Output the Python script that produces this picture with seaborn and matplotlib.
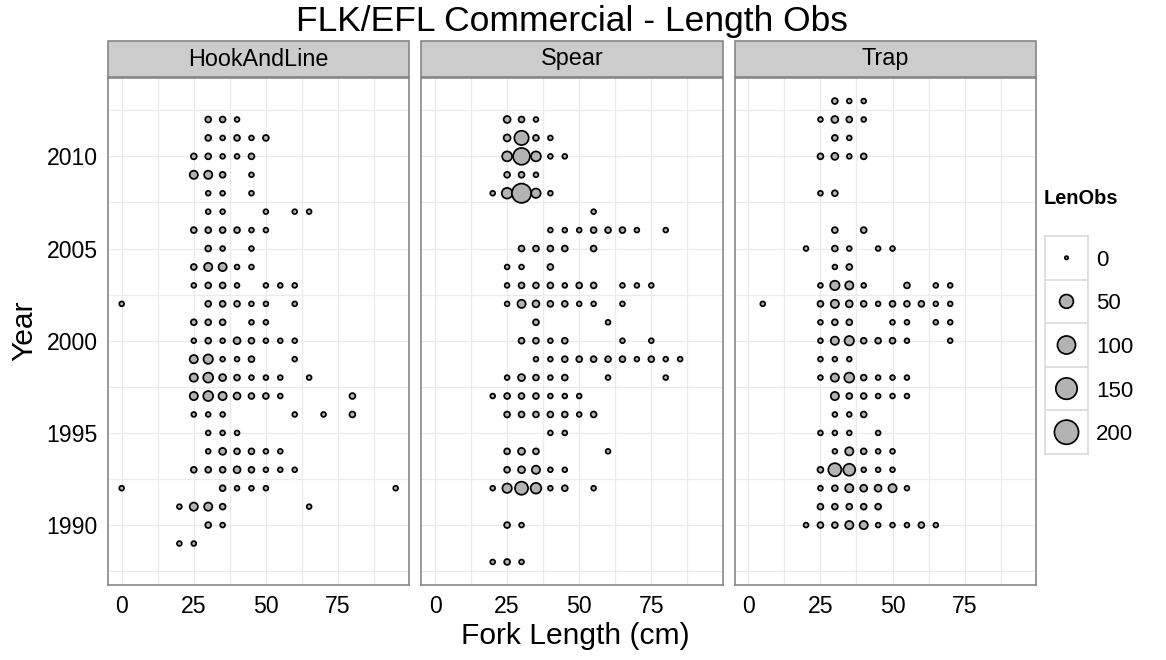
import numpy as np
import pandas as pd
import matplotlib
matplotlib.use("Agg")
import matplotlib.pyplot as plt
from matplotlib.patches import Rectangle
from matplotlib.ticker import MultipleLocator
import seaborn as sns

# ---- data: length observations by gear, year -> fork lengths (cm) and counts ----
GEARS = ["HookAndLine", "Spear", "Trap"]

hook_lengths = {
    2012: [30, 35, 40], 2011: [30, 35, 40, 45, 50], 2010: [25, 30, 35, 40, 45],
    2009: [25, 30, 35, 45], 2008: [30, 35, 45], 2007: [30, 35, 50, 60, 65],
    2006: [25, 30, 35, 40, 45, 50], 2005: [30, 35, 45], 2004: [25, 30, 35, 40, 45],
    2003: [25, 30, 35, 40, 50, 55, 60], 2002: [0, 30, 35, 40, 45, 50, 60],
    2001: [25, 30, 35, 45, 50], 2000: [25, 30, 35, 40, 45, 50, 55, 60],
    1999: [25, 30, 35, 40, 45, 60], 1998: [25, 30, 35, 40, 45, 50, 55, 65],
    1997: [25, 30, 35, 40, 45, 50, 55, 80], 1996: [25, 30, 35, 60, 70, 80],
    1995: [30, 35, 40], 1994: [30, 35, 40, 45, 50, 55],
    1993: [25, 30, 35, 40, 45, 50, 55, 60], 1992: [0, 35, 40, 45, 50, 95],
    1991: [20, 25, 30, 35, 65], 1990: [30, 35], 1989: [20, 25],
}
hook_counts = {
    2012: [3, 3, 1], 2011: [3, 1, 3, 1, 3], 2010: [3, 3, 1, 1, 3],
    2009: [11, 11, 3, 1], 2008: [1, 1, 1], 2007: [1, 1, 1, 1, 1],
    2006: [3, 3, 3, 3, 1, 1], 2005: [3, 1, 1], 2004: [3, 11, 11, 1, 1],
    2003: [1, 3, 3, 1, 1, 1, 1], 2002: [1, 3, 3, 3, 1, 1, 1],
    2001: [3, 3, 3, 1, 1], 2000: [1, 3, 1, 6, 3, 1, 1, 1],
    1999: [11, 17, 1, 1, 3, 1], 1998: [11, 20, 6, 3, 1, 1, 1, 1],
    1997: [11, 20, 11, 6, 3, 3, 1, 3], 1996: [1, 1, 1, 1, 1, 3],
    1995: [1, 1, 1], 1994: [1, 6, 3, 3, 1, 1],
    1993: [3, 3, 3, 6, 3, 1, 1, 1], 1992: [1, 3, 1, 1, 1, 1],
    1991: [1, 11, 11, 3, 1], 1990: [3, 1], 1989: [1, 1],
}

spear_lengths = {
    2012: [25, 30, 35], 2011: [25, 30, 35, 40], 2010: [25, 30, 35, 40, 45],
    2009: [25, 30, 35], 2008: [20, 25, 30, 35, 40], 2007: [55],
    2006: [40, 45, 50, 55, 60, 65, 70, 80], 2005: [30, 35, 40, 45, 55],
    2004: [25, 30, 40], 2003: [25, 30, 35, 40, 45, 50, 55, 65, 70, 75],
    2002: [25, 30, 35, 40, 45, 50, 55, 65], 2001: [35, 60],
    2000: [30, 35, 40, 45, 65, 75],
    1999: [35, 40, 45, 50, 55, 60, 65, 70, 75, 80, 85],
    1998: [25, 30, 35, 40, 45, 60, 80], 1997: [20, 25, 30, 35, 40, 45, 50],
    1996: [25, 30, 35, 40, 45, 50, 55], 1995: [40, 45], 1994: [25, 30, 35, 60],
    1993: [25, 30, 35, 40, 45], 1992: [20, 25, 30, 35, 40, 45, 55],
    1990: [25, 30], 1988: [20, 25, 30],
}
spear_counts = {
    2012: [6, 3, 1], 2011: [6, 56, 3, 1], 2010: [20, 84, 20, 1, 1],
    2009: [3, 3, 1], 2008: [1, 25, 117, 17, 1], 2007: [1],
    2006: [1, 1, 1, 3, 3, 3, 1, 1], 2005: [3, 3, 3, 3, 3],
    2004: [1, 1, 3], 2003: [1, 3, 3, 3, 1, 3, 3, 1, 1, 1],
    2002: [1, 11, 6, 3, 3, 1, 1, 1], 2001: [3, 1],
    2000: [3, 3, 1, 3, 1, 1],
    1999: [1, 1, 3, 3, 3, 3, 3, 1, 3, 1, 1],
    1998: [1, 6, 3, 1, 3, 1, 1], 1997: [1, 3, 3, 3, 1, 1, 1],
    1996: [3, 3, 3, 3, 3, 1, 3], 1995: [1, 1], 1994: [3, 6, 3, 1],
    1993: [3, 6, 11, 1, 1], 1992: [1, 17, 44, 25, 1, 3, 1],
    1990: [3, 1], 1988: [1, 3, 1],
}

trap_lengths = {
    2013: [30, 35, 40], 2012: [25, 30, 35, 40], 2011: [30, 35],
    2010: [25, 30, 35, 40], 2008: [25, 30], 2006: [30, 40],
    2005: [20, 30, 35, 45, 50], 2004: [30, 35],
    2003: [25, 30, 35, 40, 55, 65, 70],
    2002: [5, 25, 30, 35, 40, 45, 50, 55, 60, 65, 70],
    2001: [25, 30, 35, 50, 55, 65, 70], 2000: [25, 30, 35, 40, 45, 50, 55, 70],
    1999: [25, 30, 35], 1998: [25, 30, 35, 40, 45, 50, 55],
    1997: [30, 35, 40, 45, 50, 55], 1996: [30, 35, 40], 1995: [25, 30, 35, 45],
    1994: [30, 35, 40, 45, 50], 1993: [25, 30, 35, 40, 45, 50],
    1992: [25, 30, 35, 40, 45, 50, 55], 1991: [25, 30, 35, 40, 45],
    1990: [20, 25, 30, 35, 40, 45, 50, 55, 60, 65],
}
trap_counts = {
    2013: [3, 1, 1], 2012: [1, 6, 3, 1], 2011: [3, 1],
    2010: [3, 6, 1, 3], 2008: [1, 3], 2006: [3, 3],
    2005: [1, 3, 1, 1, 1], 2004: [1, 3],
    2003: [1, 17, 11, 1, 3, 1, 1],
    2002: [1, 3, 11, 6, 3, 1, 3, 3, 3, 1, 1],
    2001: [1, 3, 3, 1, 1, 1, 1], 2000: [1, 11, 17, 3, 3, 3, 1, 1],
    1999: [1, 1, 1], 1998: [1, 11, 20, 3, 1, 1, 1],
    1997: [11, 3, 3, 1, 1, 1], 1996: [1, 1, 3], 1995: [1, 1, 1, 1],
    1994: [1, 11, 3, 1, 1], 1993: [3, 44, 34, 1, 1, 1],
    1992: [1, 3, 11, 6, 6, 11, 1], 1991: [3, 3, 3, 3, 3],
    1990: [1, 3, 3, 11, 11, 1, 1, 1, 3, 1],
}

LEGEND_BREAKS = [0, 50, 100, 150, 200]
X_TICKS = [0, 25, 50, 75]
Y_TICKS = [1990, 1995, 2000, 2005, 2010]

TITLE = "FLK/EFL Commercial - Length Obs"
XLABEL = "Fork Length (cm)"
YLABEL = "Year"
SIZE_LABEL = "LenObs"


def gear_rows(gear, lengths, counts):
    rows = []
    for year in lengths:
        for length, n in zip(lengths[year], counts[year]):
            rows.append((gear, year, length, n))
    return rows


rows = (gear_rows("HookAndLine", hook_lengths, hook_counts)
        + gear_rows("Spear", spear_lengths, spear_counts)
        + gear_rows("Trap", trap_lengths, trap_counts))
df = pd.DataFrame(rows, columns=["Gear", "Year", "Length", SIZE_LABEL])


# diameter grows linearly with sqrt(count) (area scale with a minimum size)
def marker_area(v):
    d = 2.4 + 15.0 * np.sqrt(v / 200.0)
    return d * d


levels = sorted(set(df[SIZE_LABEL]) | set(LEGEND_BREAKS))
size_map = {v: marker_area(v) for v in levels}

sns.set_theme(style="white")
plt.rcParams["font.family"] = ["Liberation Sans", "DejaVu Sans"]
plt.rcParams["text.color"] = "black"
plt.rcParams["xtick.labelcolor"] = "black"
plt.rcParams["ytick.labelcolor"] = "black"

W, H = 1166, 660
fig = plt.figure(figsize=(W / 100, H / 100), dpi=100)
fig.patch.set_facecolor("white")
axes = fig.subplots(1, 3, sharex=True, sharey=True)
fig.subplots_adjust(left=108 / W, right=1036 / W, bottom=1 - 585 / H,
                    top=1 - 78 / H, wspace=12 / 302)

FILL = "#B3B3B3"
BORDER = "#7F7F7F"
GRID = "#EBEBEB"
EDGE_W = 1.25
panel_h = 585 - 78

for i, (ax, gear) in enumerate(zip(axes, GEARS)):
    sub = df[df["Gear"] == gear]
    sns.scatterplot(data=sub, x="Length", y="Year", size=SIZE_LABEL,
                    sizes=size_map, color=FILL, edgecolor="black",
                    linewidth=EDGE_W, legend=False, ax=ax, zorder=3)
    ax.set_xlim(-4.75, 99.75)
    ax.set_ylim(1986.75, 2014.25)
    ax.set_xticks(X_TICKS)
    ax.set_yticks(Y_TICKS)
    ax.xaxis.set_minor_locator(MultipleLocator(12.5))
    ax.yaxis.set_minor_locator(MultipleLocator(2.5))
    ax.set_axisbelow(True)
    ax.grid(which="major", color=GRID, lw=0.9)
    ax.grid(which="minor", color=GRID, lw=0.9)
    ax.tick_params(which="minor", length=0)
    ax.tick_params(which="major", direction="out", length=4.5, width=1.1,
                   color="#333333", labelsize=16.6, labelcolor="black", pad=3)
    if i > 0:
        ax.tick_params(axis="y", left=False)
    ax.set_xlabel("")
    ax.set_ylabel("")
    for sp in ax.spines.values():
        sp.set_color(BORDER)
        sp.set_linewidth(1.1)
    # facet strip
    ax.add_patch(Rectangle((0, 1 + 1 / panel_h), 1, 36 / panel_h,
                           transform=ax.transAxes, facecolor="#CCCCCC",
                           edgecolor=BORDER, lw=1.1, clip_on=False))
    ax.text(0.5, 1 + 19 / panel_h, gear, transform=ax.transAxes,
            ha="center", va="center", fontsize=16.8, color="black")

fig.text(572 / W, 1 - 21 / H, TITLE, ha="center", va="center", fontsize=25.5)
fig.text(575 / W, 1 - 636 / H, XLABEL, ha="center", va="center", fontsize=21.6)
fig.text(24 / W, 1 - 331 / H, YLABEL, ha="center", va="center",
         rotation=90, fontsize=21.6)

# size legend drawn as a column of keys
lax = fig.add_axes([1045 / W, 1 - 454 / H, 43 / W, 218 / H])
leg = pd.DataFrame({SIZE_LABEL: LEGEND_BREAKS,
                    "key": [str(b) for b in LEGEND_BREAKS],
                    "x": [0] * len(LEGEND_BREAKS)})
sns.scatterplot(data=leg, x="x", y="key", size=SIZE_LABEL, sizes=size_map,
                color=FILL, edgecolor="black", linewidth=EDGE_W, legend=False,
                ax=lax, zorder=3)
lax.set_xlim(-1, 1)
lax.set_ylim(len(LEGEND_BREAKS) - 0.5, -0.5)
for b in np.arange(0.5, len(LEGEND_BREAKS) - 0.5, 1):
    lax.axhline(b, color="#D9D9D9", lw=1.2, zorder=1)
lax.set_xticks([])
lax.yaxis.tick_right()
lax.tick_params(axis="y", length=0, labelsize=16, pad=6, labelcolor="black")
lax.set_xlabel("")
lax.set_ylabel("")
for sp in lax.spines.values():
    sp.set_color("#D9D9D9")
    sp.set_linewidth(1.2)
fig.text(1044 / W, 1 - 199 / H, SIZE_LABEL, ha="left", va="center",
         fontsize=14.4, fontweight="bold")

fig.savefig("out.png", dpi=100, facecolor="white")
